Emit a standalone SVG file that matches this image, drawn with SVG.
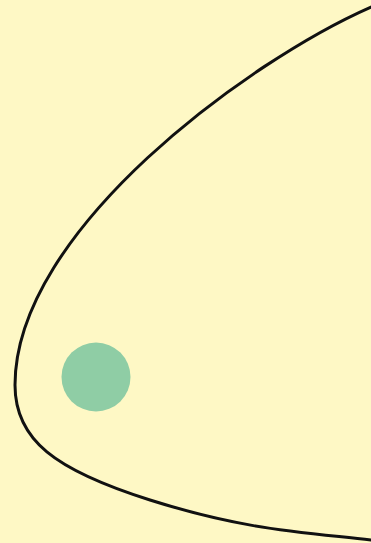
<svg xmlns="http://www.w3.org/2000/svg" width="371" height="543" viewBox="0 0 371 543">
<style>
.curve{fill:none;stroke:#111;stroke-width:3;stroke-linecap:round;stroke-linejoin:round}
</style>
<rect width="371" height="543" fill="#fef8c5"/>
<g id="curve"><path class="curve" d="M371,7 C250,60 15,230 15,385 C15,440 55,470 150,500 C245,530 300,532 371,540"/></g>
<g id="dot"><circle cx="96" cy="377" r="34.5" fill="#8fcda5"/></g>
</svg>
